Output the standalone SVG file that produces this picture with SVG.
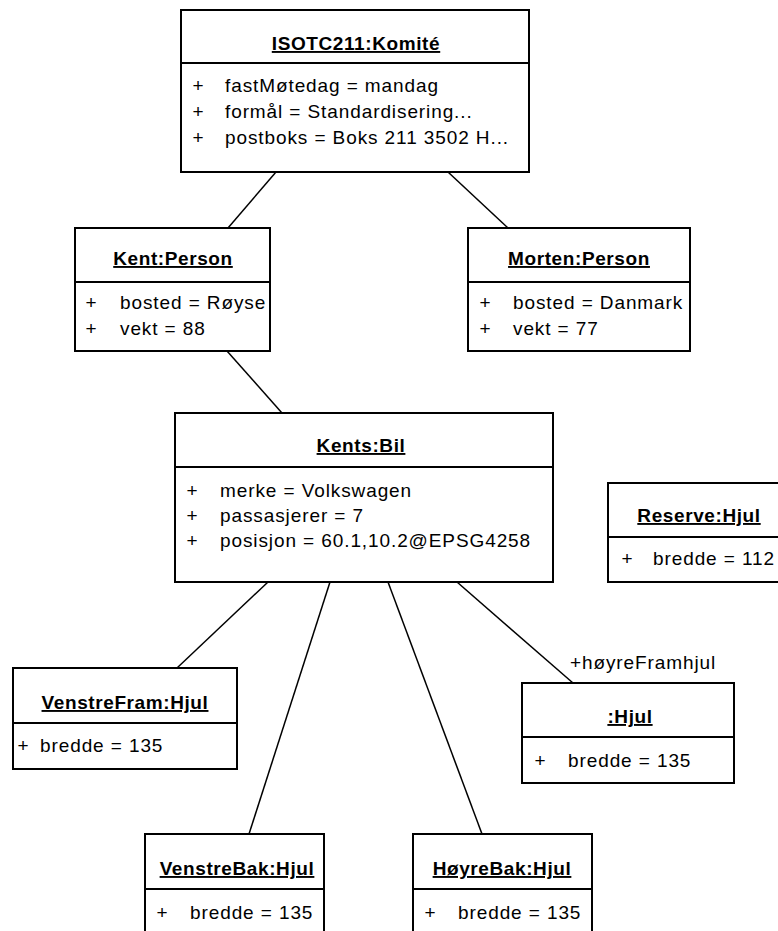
<svg xmlns="http://www.w3.org/2000/svg" width="778" height="931" viewBox="0 0 778 931">
  <style>
    .box { fill: #ffffff; stroke: #000000; stroke-width: 2; }
    .sep { stroke: #000000; stroke-width: 2; }
    .conn { stroke: #000000; stroke-width: 1.5; fill: none; }
    text { font-family: "Liberation Sans", Arial, sans-serif; font-size: 19px; fill: #000000; }
    .title { font-weight: bold; text-anchor: middle; text-decoration: underline; letter-spacing: 0.6px; }
    .attr { letter-spacing: 0.9px; }
    .vis { text-anchor: middle; }
  </style>
  <rect x="0" y="0" width="778" height="931" fill="#ffffff"/>

  <!-- links between instances -->
  <g id="connectors">
    <line class="conn" x1="276" y1="172" x2="228" y2="228"/>
    <line class="conn" x1="448" y1="172" x2="508" y2="228"/>
    <line class="conn" x1="227" y1="351" x2="282" y2="413"/>
    <line class="conn" x1="268" y1="582" x2="177" y2="668"/>
    <line class="conn" x1="330" y1="582" x2="249" y2="834"/>
    <line class="conn" x1="388" y1="582" x2="482" y2="834"/>
    <line class="conn" x1="457" y1="582" x2="573" y2="683"/>
    <text class="attr" x="570" y="669">+høyreFramhjul</text>
  </g>

  <g id="komite">
    <rect class="box" x="181" y="10" width="348" height="162"/>
    <line class="sep" x1="181" y1="63" x2="529" y2="63"/>
    <text class="title" x="356" y="50">ISOTC211:Komité</text>
    <text class="vis" x="198" y="92">+</text>
    <text class="attr" x="225" y="92">fastMøtedag = mandag</text>
    <text class="vis" x="198" y="118">+</text>
    <text class="attr" x="225" y="118">formål = Standardisering...</text>
    <text class="vis" x="198" y="144">+</text>
    <text class="attr" x="225" y="144">postboks = Boks 211 3502 H...</text>
  </g>

  <g id="kent">
    <rect class="box" x="75" y="228" width="195" height="123"/>
    <line class="sep" x1="75" y1="282" x2="270" y2="282"/>
    <text class="title" x="173" y="265">Kent:Person</text>
    <text class="vis" x="91" y="309">+</text>
    <text class="attr" x="120" y="309">bosted = Røyse</text>
    <text class="vis" x="91" y="335">+</text>
    <text class="attr" x="120" y="335">vekt = 88</text>
  </g>

  <g id="morten">
    <rect class="box" x="468" y="228" width="222" height="123"/>
    <line class="sep" x1="468" y1="282" x2="690" y2="282"/>
    <text class="title" x="579" y="265">Morten:Person</text>
    <text class="vis" x="485" y="309">+</text>
    <text class="attr" x="513" y="309">bosted = Danmark</text>
    <text class="vis" x="485" y="335">+</text>
    <text class="attr" x="513" y="335">vekt = 77</text>
  </g>

  <g id="bil">
    <rect class="box" x="175" y="413" width="378" height="169"/>
    <line class="sep" x1="175" y1="467" x2="553" y2="467"/>
    <text class="title" x="361" y="452">Kents:Bil</text>
    <text class="vis" x="192" y="497">+</text>
    <text class="attr" x="220" y="497">merke = Volkswagen</text>
    <text class="vis" x="192" y="522">+</text>
    <text class="attr" x="220" y="522">passasjerer = 7</text>
    <text class="vis" x="192" y="547">+</text>
    <text class="attr" x="220" y="547">posisjon = 60.1,10.2@EPSG4258</text>
  </g>

  <g id="reserve">
    <rect class="box" x="608" y="483" width="182" height="99"/>
    <line class="sep" x1="608" y1="537" x2="790" y2="537"/>
    <text class="title" x="699" y="522">Reserve:Hjul</text>
    <text class="vis" x="627" y="565">+</text>
    <text class="attr" x="653" y="565">bredde = 112</text>
  </g>

  <g id="venstrefram">
    <rect class="box" x="13" y="668" width="224" height="101"/>
    <line class="sep" x1="13" y1="723" x2="237" y2="723"/>
    <text class="title" x="125" y="709">VenstreFram:Hjul</text>
    <text class="vis" x="23" y="752">+</text>
    <text class="attr" x="40" y="752">bredde = 135</text>
  </g>

  <g id="hoyrefram">
    <rect class="box" x="522" y="683" width="212" height="100"/>
    <line class="sep" x1="522" y1="737" x2="734" y2="737"/>
    <text class="title" x="630" y="723">:Hjul</text>
    <text class="vis" x="540" y="767">+</text>
    <text class="attr" x="568" y="767">bredde = 135</text>
  </g>

  <g id="venstrebak">
    <rect class="box" x="145" y="834" width="179" height="120"/>
    <line class="sep" x1="145" y1="889" x2="324" y2="889"/>
    <text class="title" x="237" y="875">VenstreBak:Hjul</text>
    <text class="vis" x="162" y="919">+</text>
    <text class="attr" x="190" y="919">bredde = 135</text>
  </g>

  <g id="hoyrebak">
    <rect class="box" x="413" y="834" width="179" height="120"/>
    <line class="sep" x1="413" y1="889" x2="592" y2="889"/>
    <text class="title" x="502" y="875">HøyreBak:Hjul</text>
    <text class="vis" x="430" y="919">+</text>
    <text class="attr" x="458" y="919">bredde = 135</text>
  </g>
</svg>
